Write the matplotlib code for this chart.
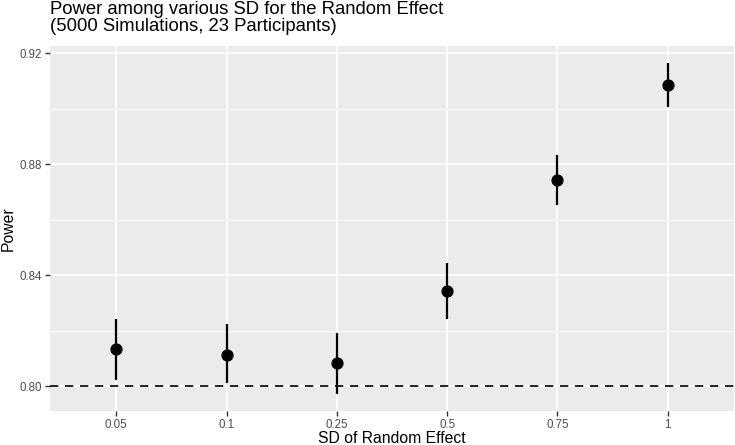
import matplotlib
matplotlib.use("Agg")
import matplotlib.pyplot as plt
from matplotlib.ticker import FixedLocator

plt.rcParams['font.family'] = ['Liberation Sans', 'DejaVu Sans']

sd_labels = ["0.05", "0.1", "0.25", "0.5", "0.75", "1"]
power = [0.8133, 0.8111, 0.8083, 0.8343, 0.8744, 0.9086]
ci_low = [0.8023, 0.8011, 0.7971, 0.8243, 0.8654, 0.9005]
ci_high = [0.8243, 0.8223, 0.8193, 0.8445, 0.8834, 0.9166]
ref_power = 0.80
yticks = [0.80, 0.84, 0.88, 0.92]
yminor = [0.82, 0.86, 0.90]

W, H = 735, 445
fig = plt.figure(figsize=(W/100, H/100), dpi=100)
ax = fig.add_axes([50/W, (H-411)/H, (734-50)/W, (411-46)/H])
ax.set_facecolor('#EBEBEB')
for s in ax.spines.values():
    s.set_visible(False)

x = list(range(1, len(sd_labels)+1))
ax.set_xlim(0.4, len(sd_labels)+0.6)
ax.set_ylim(0.7910, 0.9226)

ax.yaxis.set_major_locator(FixedLocator(yticks))
ax.yaxis.set_minor_locator(FixedLocator(yminor))
ax.set_xticks(x)
ax.set_xticklabels(sd_labels)
ax.set_yticklabels([f"{v:.2f}" for v in yticks])
ax.grid(which='major', color='white', linewidth=1.4)
ax.grid(which='minor', axis='y', color='white', linewidth=0.7)
ax.set_axisbelow(True)
ax.tick_params(axis='both', which='major', length=3.5, width=1.0, color='#333333',
               labelcolor='#4D4D4D', labelsize=8.3, pad=2)
ax.tick_params(axis='y', which='minor', length=0)

ax.axhline(ref_power, color='black', linestyle=(0, (5, 4)), linewidth=1.2, zorder=2)
ax.vlines(x, ci_low, ci_high, color='black', linewidth=1.6, zorder=3)
ax.plot(x, power, 'o', color='black', markersize=7.8, zorder=4)

ax.set_xlabel("SD of Random Effect", fontsize=11.3, labelpad=0.5)
ax.set_ylabel("Power", fontsize=11.3, labelpad=3)

fig.text(50/W, 1 - 1/H, "Power among various SD for the Random Effect\n(5000 Simulations, 23 Participants)",
         ha='left', va='top', fontsize=13.3, linespacing=1.0)

fig.savefig("out.png", dpi=100)
